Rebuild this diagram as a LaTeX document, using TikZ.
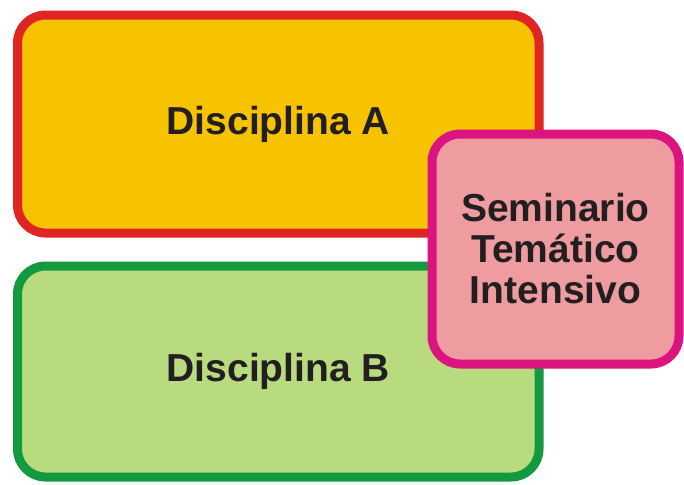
\documentclass[tikz,border=0pt]{standalone}
\usepackage{fontspec}
\setmainfont{Liberation Sans}
\usetikzlibrary{positioning}
\definecolor{amarillo}{HTML}{F7C300}
\definecolor{rojo}{HTML}{DF2424}
\definecolor{verdeclaro}{HTML}{B9DB80}
\definecolor{verde}{HTML}{13993F}
\definecolor{rosa}{HTML}{EF9CA0}
\definecolor{magenta}{HTML}{DB1480}
\definecolor{texto}{HTML}{231F20}
\tikzset{
    caja/.style args={#1 #2}{
        draw=#1, fill=#2, line width=4.5pt, rounded corners=14pt,
        text=texto, font=\fontsize{19.5}{20.5}\selectfont\bfseries, align=center
    },
    caja/.default={rojo amarillo}
}
\begin{document}
\begin{tikzpicture}[x=0.5pt, y=-0.5pt]
    \useasboundingbox (0,0) rectangle (684,484);
    \coordinate (cA) at (278.25, 124);
    \coordinate (cB) at (278.25, 371.5);
    \coordinate (cS) at (555.5, 249);
    \node[caja={rojo amarillo}, minimum width=260.75pt, minimum height=109pt] (discA) at (cA) {Disciplina A};
    \node[caja={verde verdeclaro}, minimum width=260.75pt, minimum height=105.5pt] (discB) at (cB) {Disciplina B};
    \node[caja={magenta rosa}, minimum width=123.5pt, minimum height=115pt] (seminario) at (cS) {Seminario\\Temático\\Intensivo};
\end{tikzpicture}
\end{document}
